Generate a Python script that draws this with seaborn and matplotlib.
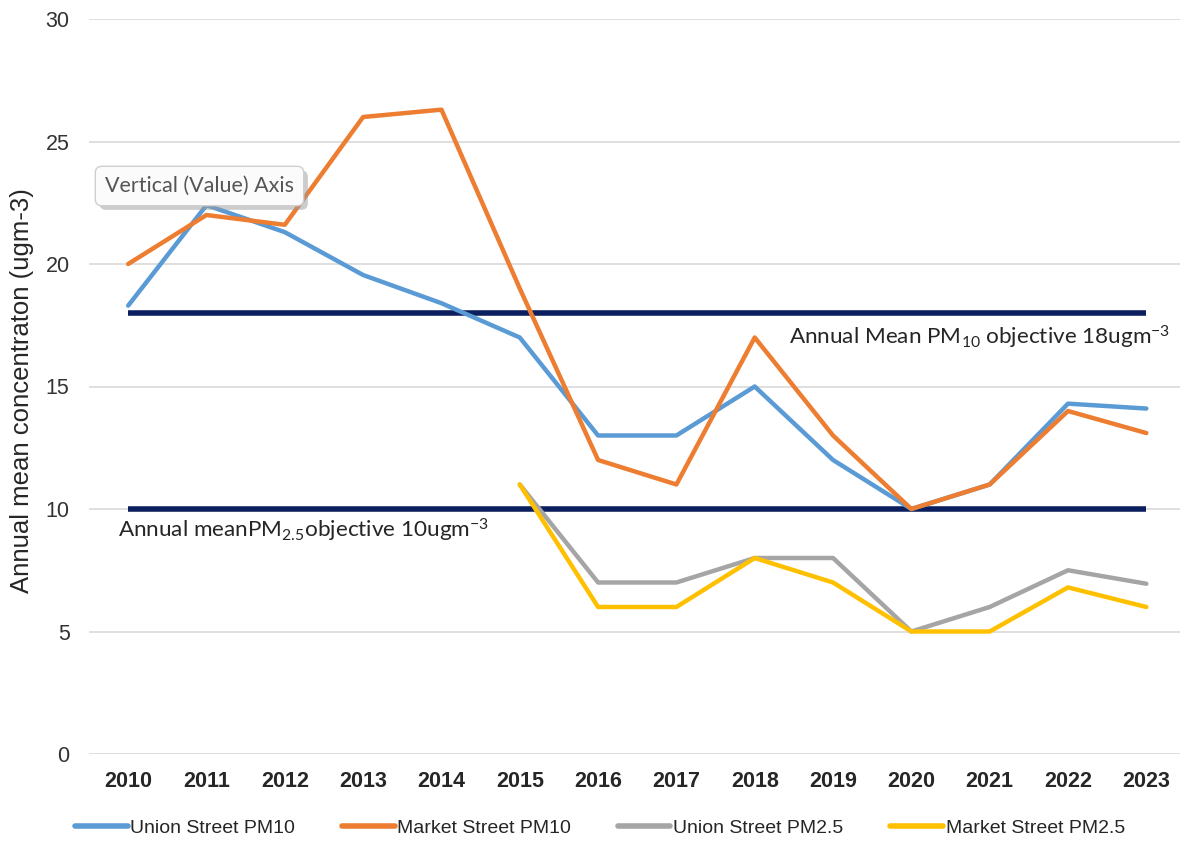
import numpy as np
import pandas as pd
import matplotlib
matplotlib.use("Agg")
import matplotlib.pyplot as plt
import matplotlib.patheffects as pe
import seaborn as sns
from matplotlib import font_manager

years = [2010, 2011, 2012, 2013, 2014, 2015, 2016, 2017, 2018, 2019, 2020, 2021, 2022, 2023]
union_pm10 = [18.3, 22.4, 21.3, 19.55, 18.4, 17.0, 13.0, 13.0, 15.0, 12.0, 10.0, 11.0, 14.3, 14.1]
market_pm10 = [20.0, 22.0, 21.6, 26.0, 26.3, 19.0, 12.0, 11.0, 17.0, 13.0, 10.0, 11.0, 14.0, 13.1]
union_pm25 = [np.nan, np.nan, np.nan, np.nan, np.nan, 11.0, 7.0, 7.0, 8.0, 8.0, 5.0, 6.0, 7.5, 6.95]
market_pm25 = [np.nan, np.nan, np.nan, np.nan, np.nan, 11.0, 6.0, 6.0, 8.0, 7.0, 5.0, 5.0, 6.8, 6.0]
series_names = ["Union Street PM10", "Market Street PM10", "Union Street PM2.5", "Market Street PM2.5"]
objective_values = [18, 10]
objective_labels = [r"Annual Mean PM$_{10}$ objective 18ugm$^{-3}$",
                    r"Annual meanPM$_{2.5}$objective 10ugm$^{-3}$"]
y_ticks = [0, 5, 10, 15, 20, 25, 30]
y_label = "Annual mean concentraton (ugm-3)"

colors = ["#5B9BD5", "#ED7D31", "#A5A5A5", "#FFC000"]
navy = "#0B1F5E"

sns.set_theme(style="white")
avail = {f.name for f in font_manager.fontManager.ttflist}
sans = "Liberation Sans" if "Liberation Sans" in avail else "DejaVu Sans"
cal = "Lato" if "Lato" in avail else sans
plt.rcParams["font.family"] = [sans, "DejaVu Sans"]
plt.rcParams["mathtext.fontset"] = "custom"
plt.rcParams["mathtext.rm"] = cal
plt.rcParams["mathtext.it"] = cal
plt.rcParams["mathtext.bf"] = cal

frames = []
for name, vals in zip(series_names, [union_pm10, market_pm10, union_pm25, market_pm25]):
    frames.append(pd.DataFrame({"idx": np.arange(len(years)), "value": vals, "series": name}))
df = pd.concat(frames, ignore_index=True).dropna()

fig = plt.figure(figsize=(11.8, 8.43), dpi=100)
ax = fig.add_axes([89 / 1180, 89 / 843, (1180 - 89) / 1180, 735 / 843])

for yv in y_ticks:
    ax.axhline(yv, color="#D9D9D9", lw=1.2, zorder=0)

sns.lineplot(data=df, x="idx", y="value", hue="series", hue_order=series_names,
             palette=colors, lw=3.2, sort=False, ax=ax, legend=True, zorder=3)

for v in objective_values:
    ax.hlines(v, 0, len(years) - 1, color=navy, lw=4, zorder=2)

ax.set_xlim(-0.5, 13.43)
ax.set_ylim(0, 30)
ax.set_yticks(y_ticks)
ax.set_yticklabels([str(t) for t in y_ticks], fontsize=15.5, color="#333333")
ax.set_xticks(np.arange(len(years)))
ax.set_xticklabels([str(y) for y in years], fontsize=15.5, color="#262626", fontweight="bold")
ax.tick_params(axis="both", length=0)
ax.tick_params(axis="y", pad=14)
ax.tick_params(axis="x", pad=12)
for s in ax.spines.values():
    s.set_visible(False)
ax.set_xlabel("")
ax.set_ylabel(y_label, fontsize=18.5, color="#262626")
ax.yaxis.set_label_coords(-55 / 1091, 0.495)

ax.text(13.3, objective_values[0] - 0.45, objective_labels[0], ha="right", va="top",
        fontsize=16.2, color="#262626", family=cal)
ax.text(-0.13, objective_values[1] - 0.3, objective_labels[1], ha="left", va="top",
        fontsize=16.2, color="#262626", family=cal)

# tooltip
t = fig.text(105 / 1180, 1 - 186 / 843, "Vertical (Value) Axis", ha="left", va="center",
             fontsize=15.5, family=cal, color="#555555", zorder=10,
             bbox=dict(boxstyle="round,pad=0.45,rounding_size=0.3", fc="#FBFBFB", ec="#CFCFCF", lw=1))
t.get_bbox_patch().set_path_effects([pe.SimplePatchShadow(offset=(3, -3), shadow_rgbFace="#9A9A9A", alpha=0.5),
                                     pe.Normal()])

handles, labels = ax.get_legend_handles_labels()
ax.get_legend().remove()
for h in handles:
    h.set_linewidth(4)
fig.legend(handles, labels, loc="center", bbox_to_anchor=(600 / 1180, 15 / 843), ncol=4,
           frameon=False, handlelength=2.7, handletextpad=0.15, columnspacing=2.4,
           prop={"family": sans, "size": 14})

fig.savefig("out.png", dpi=100, facecolor="white")
